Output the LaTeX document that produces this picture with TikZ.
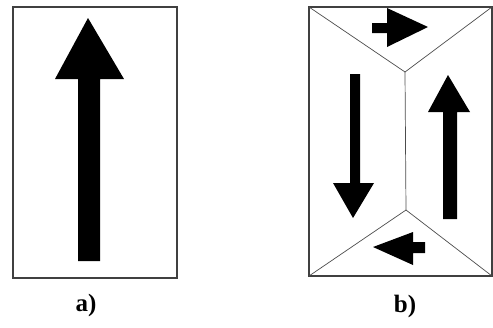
\documentclass[tikz,border=0pt]{standalone}
\usepackage{fontspec}
\usepackage{tikz}
\usetikzlibrary{positioning}
\newfontfamily\capfont{Liberation Serif}

\begin{document}
\begin{tikzpicture}[x=1pt,y=-1pt]
%
\useasboundingbox (0,0) rectangle (493,327);
%
\definecolor{cframe}{rgb}{0.25,0.25,0.25}
\definecolor{cfold}{rgb}{0.3,0.3,0.3}
\definecolor{carrow}{rgb}{0.0,0.0,0.0}
%
\tikzset{frame/.style={draw=cframe,line width=1.2pt},
  fold/.style={draw=cfold,line width=0.7pt},
  bigarrow/.style={fill=carrow,draw=none},
  caption/.style={font=\capfont\fontsize{25}{25}\selectfont\bfseries,inner sep=0pt}}
%
% a)
\draw[frame] (13,7) rectangle (177,278);
\fill[bigarrow] (88,18) -- (124,79) -- (100,79) -- (100,261) -- (78,261) -- (78,79) -- (55,79) -- cycle;
\node[caption] (capa) at (86,305) {a)};
%
% b)
\draw[frame] (309,7) rectangle (492,276);
\coordinate (vtop) at (405,72);
\coordinate (vbot) at (406,210);
\draw[fold] (309,7) -- (vtop) -- (492,7);
\draw[fold] (309,276) -- (vbot) -- (492,276);
\draw[fold] (vtop) -- (vbot);
%
\fill[bigarrow] (428,27) -- (387,47) -- (387,33) -- (372,33) -- (372,23) -- (387,23) -- (387,8) -- cycle;
\fill[bigarrow] (353,218) -- (333,183) -- (350,183) -- (350,74) -- (360,74) -- (360,183) -- (374,183) -- cycle;
\fill[bigarrow] (448,75) -- (470,112) -- (457,112) -- (457,219) -- (443,219) -- (443,112) -- (428,112) -- cycle;
\fill[bigarrow] (373,247) -- (413,232) -- (413,242) -- (425,242) -- (425,253) -- (413,253) -- (413,265) -- cycle;
\node[caption] (capb) at (405,306) {b)};
%
\end{tikzpicture}
\end{document}
